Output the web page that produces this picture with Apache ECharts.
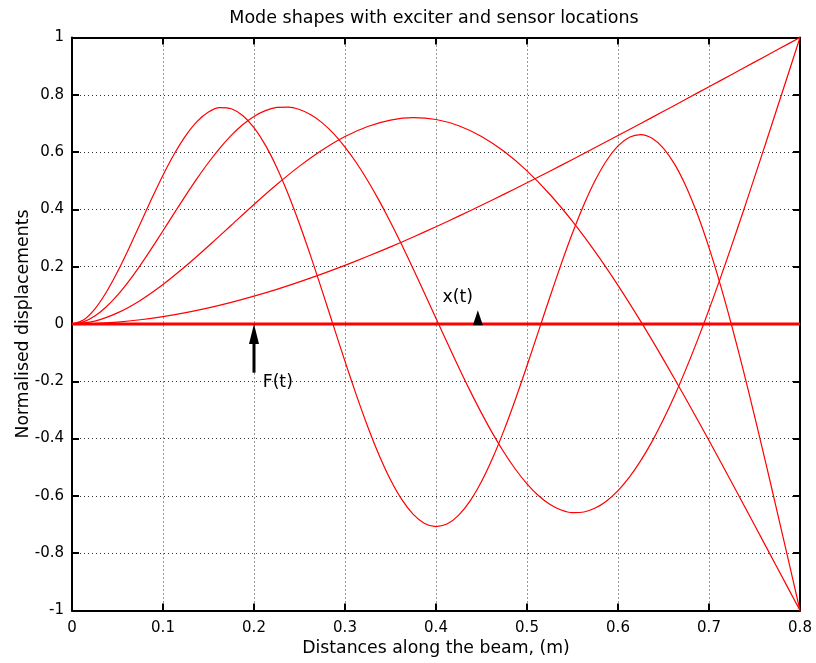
<!DOCTYPE html>
<html>
<head>
<meta charset="utf-8">
<title>Mode shapes with exciter and sensor locations</title>
<script src="https://cdn.jsdelivr.net/npm/echarts/dist/echarts.min.js"></script>
<style>
  html, body { margin: 0; padding: 0; background: #ffffff; }
  #chart { width: 816px; height: 663px; }
</style>
</head>
<body>
<div id="chart"></div>
<script>
// Stations along the beam (m): coarse set for the low modes, fine set for the higher modes
const positions = [0, 0.025, 0.05, 0.075, 0.1, 0.125, 0.15, 0.175, 0.2, 0.225, 0.25,
  0.275, 0.3, 0.325, 0.35, 0.375, 0.4, 0.425, 0.45, 0.475, 0.5, 0.525, 0.55, 0.575,
  0.6, 0.625, 0.65, 0.675, 0.7, 0.725, 0.75, 0.775, 0.8];
const positionsFine = [0, 0.0125, 0.025, 0.0375, 0.05, 0.0625, 0.075, 0.0875, 0.1, 0.1125,
  0.125, 0.1375, 0.15, 0.1625, 0.175, 0.1875, 0.2, 0.2125, 0.225, 0.2375, 0.25, 0.2625,
  0.275, 0.2875, 0.3, 0.3125, 0.325, 0.3375, 0.35, 0.3625, 0.375, 0.3875, 0.4, 0.4125,
  0.425, 0.4375, 0.45, 0.4625, 0.475, 0.4875, 0.5, 0.5125, 0.525, 0.5375, 0.55, 0.5625,
  0.575, 0.5875, 0.6, 0.6125, 0.625, 0.6375, 0.65, 0.6625, 0.675, 0.6875, 0.7, 0.7125,
  0.725, 0.7375, 0.75, 0.7625, 0.775, 0.7875, 0.8];

// Normalised displacement of each mode
const mode1 = [0, 0.0017, 0.0067, 0.0148, 0.0259, 0.0398, 0.0565, 0.0757, 0.0973, 0.1211,
  0.1471, 0.1751, 0.2048, 0.2363, 0.2693, 0.3038, 0.3395, 0.3764, 0.4144, 0.4533, 0.4930,
  0.5333, 0.5743, 0.6158, 0.6578, 0.7000, 0.7425, 0.7852, 0.8281, 0.8710, 0.9140, 0.9570, 1];
const mode2 = [0, 0.0102, 0.0388, 0.0824, 0.1379, 0.2022, 0.2722, 0.3448, 0.4173, 0.4868,
  0.5510, 0.6075, 0.6543, 0.6895, 0.7119, 0.7202, 0.7137, 0.6918, 0.6544, 0.6018, 0.5343,
  0.4528, 0.3582, 0.2518, 0.1350, 0.0091, -0.1242, -0.2633, -0.4068, -0.5533, -0.7016, -0.8507, -1];
const mode3 = [0, 0.0072, 0.0277, 0.0595, 0.1008, 0.1499, 0.2048, 0.2639, 0.3255, 0.3877,
  0.4492, 0.5083, 0.5637, 0.6141, 0.6584, 0.6955, 0.7245, 0.7448, 0.7558, 0.7572,
  0.7486, 0.7302, 0.7020, 0.6644, 0.6177, 0.5627, 0.5000, 0.4305, 0.3553, 0.2754,
  0.1921, 0.1064, 0.0197, -0.0667, -0.1515, -0.2334, -0.3111, -0.3835, -0.4495, -0.5079,
  -0.5578, -0.5985, -0.6291, -0.6492, -0.6583, -0.6561, -0.6425, -0.6176, -0.5815, -0.5345,
  -0.4769, -0.4096, -0.3328, -0.2478, -0.1549, -0.0554, 0.0501, 0.1602, 0.2746, 0.3918,
  0.5116, 0.6326, 0.7549, 0.8771, 1];
const mode4 = [0, 0.0139, 0.0523, 0.1100, 0.1822, 0.2638, 0.3502, 0.4368, 0.5193, 0.5941,
  0.6576, 0.7072, 0.7402, 0.7553, 0.7513, 0.7278, 0.6852, 0.6242, 0.5465, 0.4539,
  0.3492, 0.2351, 0.1148, -0.0082, -0.1304, -0.2483, -0.3585, -0.4579, -0.5436, -0.6130,
  -0.6643, -0.6960, -0.7071, -0.6974, -0.6672, -0.6175, -0.5497, -0.4658, -0.3686, -0.2607,
  -0.1455, -0.0265, 0.0927, 0.2086, 0.3175, 0.4162, 0.5015, 0.5707, 0.6215, 0.6521,
  0.6613, 0.6484, 0.6132, 0.5563, 0.4785, 0.3813, 0.2666, 0.1367, -0.0062, -0.1594,
  -0.3204, -0.4867, -0.6564, -0.8275, -1];
const modeStations = [positions, positions, positionsFine, positionsFine];
const modes = [mode1, mode2, mode3, mode4];

// Undeformed beam axis
const beamX = [0, 0.8];
const beamY = [0, 0];

// Exciter F(t): force arrow shaft and its head
const exciterShaftX = [0.2, 0.2];
const exciterShaftY = [-0.17, -0.05];
const exciterHead = [0.2, 0];
const exciterLabel = [0.209, -0.204];

// Sensor x(t)
const sensorPoint = [0.446, 0.022];
const sensorLabel = [0.4066, 0.0925];

// Axis ticks
const xTicks = { min: 0, max: 0.8, step: 0.1 };
const yTicks = { min: -1, max: 1, step: 0.2 };

const FONT = 'DejaVu Sans';
const tickFmt = v => String(parseFloat(Number(v).toFixed(1)));

const pairs = (xs, ys) => xs.map((x, i) => [x, ys[i]]);

const modeSeries = modes.map((m, i) => ({
  type: 'line',
  name: 'Mode ' + (i + 1),
  data: pairs(modeStations[i], m),
  smooth: 0.25,
  symbol: 'none',
  lineStyle: { color: '#ff0000', width: 1.2, join: 'round' },
  z: 3
}));

const baseAxis = {
  type: 'value',
  axisLine: { show: true, onZero: false, lineStyle: { color: '#000', width: 2 } },
  axisTick: { show: true, inside: true, length: 7, lineStyle: { color: '#000', width: 2 } },
  splitLine: { show: false }
};

const option = {
  animation: false,
  backgroundColor: '#ffffff',
  title: {
    text: 'Mode shapes with exciter and sensor locations',
    left: 429,
    top: 4,
    textAlign: 'center',
    textStyle: { fontFamily: FONT, fontSize: 17.5, fontWeight: 'normal', color: '#000' }
  },
  grid: { left: 72, right: 16, top: 37.5, bottom: 52.5, containLabel: false },
  xAxis: [
    Object.assign({}, baseAxis, {
      position: 'bottom',
      min: xTicks.min, max: xTicks.max, interval: xTicks.step,
      name: 'Distances along the beam, (m)',
      nameLocation: 'middle',
      nameMoveOverlap: false,
      nameGap: 30,
      nameTextStyle: { fontFamily: FONT, fontSize: 17.3, color: '#000' },
      axisLabel: { margin: 10, fontFamily: FONT, fontSize: 15, color: '#000', formatter: tickFmt },
      splitLine: { show: true, lineStyle: { color: '#333', width: 1, type: [1, 3] } }
    }),
    Object.assign({}, baseAxis, {
      position: 'top',
      min: xTicks.min, max: xTicks.max, interval: xTicks.step,
      axisLabel: { show: false }
    })
  ],
  yAxis: [
    Object.assign({}, baseAxis, {
      position: 'left',
      min: yTicks.min, max: yTicks.max, interval: yTicks.step,
      name: 'Normalised displacements',
      nameLocation: 'middle',
      nameMoveOverlap: false,
      nameGap: 40,
      nameTextStyle: { fontFamily: FONT, fontSize: 17.3, color: '#000' },
      axisLabel: { margin: 8, fontFamily: FONT, fontSize: 15, color: '#000', formatter: tickFmt },
      splitLine: { show: true, lineStyle: { color: '#333', width: 1, type: [1, 3] } }
    }),
    Object.assign({}, baseAxis, {
      position: 'right',
      min: yTicks.min, max: yTicks.max, interval: yTicks.step,
      axisLabel: { show: false }
    })
  ],
  series: modeSeries.concat([
    {
      type: 'line',
      name: 'Beam',
      data: pairs(beamX, beamY),
      symbol: 'none',
      lineStyle: { color: '#ff0000', width: 3 },
      z: 4
    },
    {
      type: 'line',
      name: 'Exciter',
      data: pairs(exciterShaftX, exciterShaftY),
      symbol: 'none',
      lineStyle: { color: '#000', width: 3, cap: 'butt' },
      z: 5
    },
    {
      type: 'scatter',
      name: 'Exciter head',
      data: [exciterHead],
      symbol: 'triangle',
      symbolSize: [10, 20],
      symbolOffset: [0, '50%'],
      itemStyle: { color: '#000', opacity: 1 },
      z: 6
    },
    {
      type: 'scatter',
      name: 'Sensor',
      data: [sensorPoint],
      symbol: 'triangle',
      symbolSize: [10, 15],
      itemStyle: { color: '#000', opacity: 1 },
      z: 6
    },
    {
      type: 'scatter',
      name: 'Labels',
      data: [
        { value: exciterLabel, label: { formatter: 'F(t)' } },
        { value: sensorLabel, label: { formatter: 'x(t)' } }
      ],
      symbol: 'circle',
      symbolSize: 1,
      itemStyle: { color: '#fff', opacity: 0 },
      label: {
        show: true,
        position: 'right',
        distance: 0,
        fontFamily: FONT,
        fontSize: 17.3,
        color: '#000',
        opacity: 1
      },
      z: 7
    }
  ])
};

const chart = echarts.init(document.getElementById('chart'), null, { renderer: 'canvas' });
chart.setOption(option);
</script>
</body>
</html>
